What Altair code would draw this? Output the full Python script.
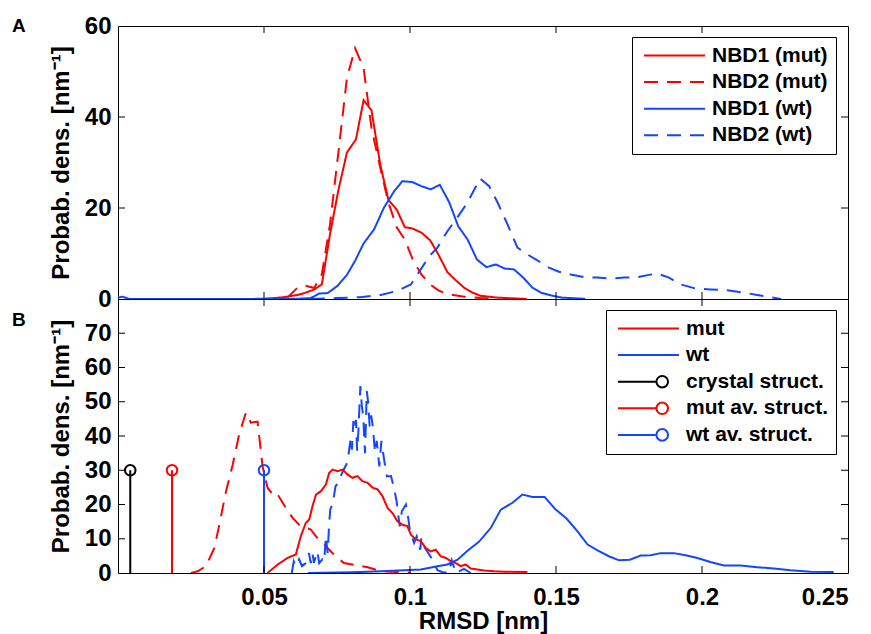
import altair as alt
import pandas as pd

RED = "#FF0000"
BLUE = "#1446FF"
BLACK = "#000000"
FONT = "Liberation Sans"
DASH = [14, 9]

# ---------------- Panel A data ----------------
namesA = ["NBD1 (mut)", "NBD2 (mut)", "NBD1 (wt)", "NBD2 (wt)"]

a1m_x = [0.045, 0.052, 0.0568, 0.0615, 0.0643, 0.0672, 0.0698, 0.0726, 0.0754, 0.0784, 0.0815, 0.0841, 0.0868, 0.0898,
         0.0926, 0.0955, 0.0982, 0.1008, 0.1039, 0.1069, 0.1097, 0.1128, 0.1157, 0.1185, 0.1214, 0.1242, 0.1300, 0.1400]
a1m_y = [0.0, 0.1, 0.4, 0.9, 1.4, 2.1, 3.2, 14.2, 23.7, 32.2, 35.1, 43.7, 41.5, 29.6,
         21.8, 19.6, 15.8, 15.5, 14.6, 12.9, 9.8, 5.9, 4.1, 2.5, 1.4, 0.7, 0.3, 0.0]

a2m_x = [0.050, 0.058, 0.0615, 0.0643, 0.0672, 0.0698, 0.0726, 0.0754, 0.0784, 0.0812, 0.0841, 0.0868,
         0.0898, 0.0926, 0.0955, 0.0982, 0.1011, 0.1039, 0.1069, 0.1097, 0.1128, 0.1185, 0.1242, 0.1300]
a2m_y = [0.0, 0.3, 2.5, 2.9, 2.4, 5.4, 16.4, 31.8, 48.6, 55.1, 50.8, 37.6,
         28.9, 21.2, 15.7, 13.1, 8.4, 5.4, 3.2, 1.9, 1.1, 0.5, 0.2, 0.0]

a1w_x = [0.0, 0.0015, 0.004, 0.060, 0.066, 0.0689, 0.0718, 0.0752, 0.0784, 0.0812, 0.0841, 0.0877, 0.0911,
         0.0946, 0.0974, 0.1008, 0.1039, 0.1071, 0.1102, 0.1134, 0.1165, 0.1197, 0.1229, 0.1262, 0.1294,
         0.1324, 0.1356, 0.1388, 0.1419, 0.1448, 0.1482, 0.1520, 0.1600]
a1w_y = [0.3, 0.5, 0.0, 0.0, 0.2, 1.2, 1.3, 2.9, 5.3, 8.4, 12.2, 15.3, 20.1,
         23.7, 25.9, 25.7, 24.8, 24.1, 25.1, 21.3, 16.0, 13.1, 8.7, 7.0, 7.6,
         6.7, 6.5, 4.7, 2.5, 1.4, 0.8, 0.3, 0.05]

a2w_x = [0.066, 0.075, 0.083, 0.090, 0.0957, 0.1003, 0.1037, 0.1066, 0.1094, 0.1128,
         0.1162, 0.1197, 0.1240, 0.1271, 0.1300, 0.1334, 0.1368, 0.1402, 0.1436, 0.1476,
         0.1510, 0.1550, 0.1596, 0.1642, 0.1687, 0.1733, 0.1779, 0.1818, 0.1847, 0.1887,
         0.1927, 0.1978, 0.2029, 0.2087, 0.2143, 0.2189, 0.2235, 0.2270]
a2w_y = [0.0, 0.2, 0.4, 0.9, 1.8, 3.2, 6.5, 9.4, 11.3, 14.9,
         17.9, 21.2, 26.5, 24.8, 21.2, 16.4, 11.3, 9.8, 8.5, 6.9,
         6.0, 5.4, 4.8, 4.7, 4.5, 4.7, 4.8, 5.3, 5.6, 4.7,
         3.2, 2.3, 2.1, 1.9, 1.4, 0.9, 0.4, 0.0]

# ---------------- Panel B data ----------------
namesB = ["mut", "wt", "crystal struct.", "mut av. struct.", "wt av. struct."]

bm_x = [0.0512, 0.0547, 0.0581, 0.0609, 0.0626, 0.0643, 0.0655, 0.0666, 0.0678, 0.0695,
        0.0712, 0.0723, 0.0735, 0.0752, 0.0769, 0.0786, 0.0803, 0.0820, 0.0837, 0.0855,
        0.0872, 0.0889, 0.0906, 0.0923, 0.0940, 0.0957, 0.0974, 0.0991, 0.1003, 0.1020,
        0.1037, 0.1054, 0.1071, 0.1088, 0.1105, 0.1123, 0.1140, 0.1157, 0.1174, 0.1191,
        0.1208, 0.1231, 0.1254, 0.1288, 0.1322, 0.1402]
bm_y = [0.0, 2.5, 4.4, 5.4, 10.7, 14.6, 15.6, 19.5, 22.9, 23.9,
        25.8, 29.2, 30.2, 29.7, 30.2, 28.8, 27.8, 28.3, 26.8, 26.3,
        24.9, 24.4, 22.4, 19.0, 17.5, 15.1, 14.1, 13.7, 11.2, 9.8,
        9.3, 7.3, 6.3, 6.8, 4.9, 4.4, 3.4, 2.9, 2.0, 2.5,
        1.3, 1.0, 0.7, 0.5, 0.4, 0.3]

bw_x = [0.065, 0.080, 0.090, 0.098, 0.1037, 0.1094, 0.1128, 0.1163, 0.1197, 0.1236,
        0.1277, 0.1311, 0.1351, 0.1385, 0.1419, 0.1461, 0.1499, 0.1536, 0.1573, 0.1608,
        0.1644, 0.1681, 0.1716, 0.1753, 0.1790, 0.1824, 0.1858, 0.1904, 0.1944, 0.1984,
        0.2029, 0.2075, 0.2132, 0.2189, 0.2246, 0.2303, 0.2372, 0.2451]
bw_y = [0.0, 0.2, 0.5, 0.8, 1.0, 2.0, 2.5, 3.9, 6.5, 9.1,
        13.2, 18.5, 20.5, 22.9, 22.2, 22.2, 18.5, 15.9, 12.2, 8.3,
        6.5, 4.9, 3.7, 3.9, 5.1, 5.2, 5.8, 5.8, 5.2, 4.4,
        3.2, 2.2, 2.2, 1.7, 1.3, 0.8, 0.4, 0.3]

bmd_x = [0.0250, 0.0273, 0.0301, 0.0330, 0.0347, 0.0370, 0.0393, 0.0415, 0.0438, 0.0455,
         0.0478, 0.0495, 0.0512, 0.0535, 0.0547, 0.0575, 0.0598, 0.0620, 0.0643, 0.0660,
         0.0683, 0.0706, 0.0729, 0.0752, 0.0774, 0.0820, 0.0855, 0.0900, 0.0957, 0.1003]
bmd_y = [0.0, 0.5, 2.0, 7.3, 14.1, 23.9, 31.7, 40.5, 46.8, 43.9,
         44.2, 31.2, 24.9, 22.4, 22.9, 19.0, 16.1, 14.1, 13.2, 12.7,
         10.2, 8.3, 6.3, 4.4, 2.9, 2.2, 1.7, 0.5, 0.3, 0.1]

bwd_x = [0.0595, 0.0602, 0.0609, 0.0620, 0.0630, 0.0643, 0.0654, 0.0660, 0.0666, 0.0671,
         0.0683, 0.0689, 0.0700, 0.0706, 0.0712, 0.0718, 0.0723, 0.0727, 0.0735, 0.0745,
         0.0752, 0.0766, 0.0786, 0.0797, 0.0801, 0.0806, 0.0811, 0.0815, 0.0819, 0.0823,
         0.0830, 0.0835, 0.0838, 0.0841, 0.0843, 0.0846, 0.0852, 0.0857, 0.0862, 0.0867,
         0.0873, 0.0880, 0.0886, 0.0891, 0.0895, 0.0902, 0.0908, 0.0915, 0.0921, 0.0935,
         0.0946, 0.0954, 0.0958, 0.0965, 0.0972, 0.0986, 0.0994, 0.1000, 0.1014, 0.1023,
         0.1035, 0.1039, 0.1048, 0.1074, 0.1094, 0.1110, 0.1133, 0.1143, 0.1157, 0.1185,
         0.1208]
bwd_y = [0.0, 3.4, 2.0, 4.0, 2.0, 2.9, 5.8, 2.9, 5.8, 3.0,
         6.3, 2.9, 4.0, 3.4, 10.7, 5.8, 14.2, 18.6, 20.0, 25.4,
         26.0, 28.9, 32.4, 39.4, 36.0, 44.4, 42.0, 44.7, 35.7, 41.0,
         54.6, 48.8, 47.0, 44.0, 39.7, 35.0, 53.2, 49.6, 42.6, 46.0,
         42.6, 35.2, 38.6, 34.4, 31.1, 38.6, 35.0, 31.1, 28.2, 28.3,
         24.5, 21.0, 18.0, 13.6, 18.0, 20.0, 16.0, 12.2, 8.8, 10.7,
         6.8, 10.2, 7.8, 4.3, 0.8, 0.3, 0.0, 3.7, 0.0, 1.2,
         0.0]

stem_names = ["crystal struct.", "mut av. struct.", "wt av. struct."]
stem_x = [0.0042, 0.0185, 0.0500]
stem_y = [30, 30, 30]

x_ticks = [0.05, 0.1, 0.15, 0.2, 0.25]
x_inner_ticks = [0.05, 0.1, 0.15, 0.2]
yA_ticks = [0, 20, 40, 60]
yA_inner = [20, 40]
yB_ticks = [0, 10, 20, 30, 40, 50, 60, 70]
yB_inner = [10, 20, 30, 40, 50, 60, 70]
panel_labels = ["A", "B"]

YTITLE = "Probab. dens. [nm\u207b\u00b9]"

# ---------------- build ----------------
def series(xs, ys, name):
    return pd.DataFrame({"x": xs, "y": ys, "series": name})

dfA = pd.concat([series(a1m_x, a1m_y, namesA[0]), series(a2m_x, a2m_y, namesA[1]),
                 series(a1w_x, a1w_y, namesA[2]), series(a2w_x, a2w_y, namesA[3])], ignore_index=True)
dfB = pd.concat([series(bm_x, bm_y, "mut"), series(bw_x, bw_y, "wt")], ignore_index=True)
dfBmd = series(bmd_x, bmd_y, "mut2")
dfBwd = series(bwd_x, bwd_y, "wt2")
dfStem = pd.DataFrame({"x": stem_x, "y": stem_y, "series": stem_names})

W, HA, HB = 730, 273, 274
TL = 7

xsc = alt.Scale(domain=[0, 0.25], nice=False, zero=False)
ysA = alt.Scale(domain=[0, 60], nice=False, zero=False)
ysB = alt.Scale(domain=[0, 80], nice=False, zero=False)

legend_common = dict(title=None, orient="none", direction="vertical",
                     labelFont=FONT, labelFontSize=21, labelFontWeight="bold", labelColor="black",
                     labelLimit=400, labelOffset=6, symbolSize=3721, clipHeight=21, rowPadding=4.6,
                     symbolOffset=3, padding=8, strokeColor="black", fillColor="white",
                     symbolStrokeWidth=2, symbolFillColor="transparent")

legendA = alt.Legend(legendX=514, legendY=11, symbolType="stroke", **legend_common)

CIRCLE_PATH = "M-1,0L0.26,0M0.64,0A0.19,0.19,0,1,1,0.26,0A0.19,0.19,0,1,1,0.64,0"
legendB = alt.Legend(
    legendX=488, legendY=11,
    symbolType=alt.ExprRef(expr="(datum.value == 'mut' || datum.value == 'wt') ? 'M-1,0L1,0' : '" + CIRCLE_PATH + "'"),
    **legend_common)


def yaxis(values, H):
    return alt.Axis(values=values, title=YTITLE, titleX=-50, titleY=H / 2, titleBaseline="alphabetic",
                    titleAngle=270, titleAlign="center", labelPadding=7, format="d",
                    ticks=False, domain=False, grid=False)


axisA_y = yaxis(yA_ticks, HA)
axisB_y = yaxis(yB_ticks, HB)
axisB_x = alt.Axis(values=x_ticks, format=".2~f", title="RMSD [nm]", labelPadding=12, titlePadding=0,
                   ticks=False, domain=False, grid=False)


def ticks(H, yscale, inner_y, xaxis, yax):
    tx = pd.DataFrame({"v": x_inner_ticks})
    ty = pd.DataFrame({"v": inner_y})
    base_x = alt.Chart(tx).mark_rule(color="black", strokeWidth=1)
    base_y = alt.Chart(ty).mark_rule(color="black", strokeWidth=1)
    return [
        base_x.encode(x=alt.X("v:Q", scale=xsc, axis=xaxis), y=alt.value(H), y2=alt.value(H - TL)),
        base_x.encode(x=alt.X("v:Q", scale=xsc, axis=xaxis), y=alt.value(0), y2=alt.value(TL)),
        base_y.encode(y=alt.Y("v:Q", scale=yscale, axis=yax), x=alt.value(0), x2=alt.value(TL)),
        base_y.encode(y=alt.Y("v:Q", scale=yscale, axis=yax), x=alt.value(W), x2=alt.value(W - TL)),
    ]


def panel_label(txt, ypos):
    return alt.Chart(pd.DataFrame({"t": [txt]})).mark_text(
        font=FONT, fontSize=19, fontWeight="bold", align="left", baseline="alphabetic", color="black"
    ).encode(text="t:N", x=alt.value(-106), y=alt.value(ypos))


linesA = alt.Chart(dfA).mark_line(strokeWidth=2, clip=True).encode(
    x=alt.X("x:Q", scale=xsc, axis=None),
    y=alt.Y("y:Q", scale=ysA, axis=axisA_y),
    color=alt.Color("series:N", scale=alt.Scale(domain=namesA, range=[RED, RED, BLUE, BLUE]), legend=legendA),
    strokeDash=alt.StrokeDash("series:N", scale=alt.Scale(domain=namesA, range=[[1, 0], DASH, [1, 0], DASH]),
                              legend=legendA),
)

panelA = alt.layer(linesA, *ticks(HA, ysA, yA_inner, None, axisA_y),
                   panel_label(panel_labels[0], 6)).properties(width=W, height=HA)

colorB = alt.Scale(domain=namesB, range=[RED, BLUE, BLACK, RED, BLUE])

xB = alt.X("x:Q", scale=xsc, axis=axisB_x)
yBenc = alt.Y("y:Q", scale=ysB, axis=axisB_y)

mutdB = alt.Chart(dfBmd).mark_line(strokeWidth=2, clip=True, color=RED, strokeDash=DASH).encode(x=xB, y=yBenc)
wtdB = alt.Chart(dfBwd).mark_line(strokeWidth=2, clip=True, color=BLUE, strokeDash=DASH).encode(x=xB, y=yBenc)
linesB = alt.Chart(dfB).mark_line(strokeWidth=2, clip=True).encode(
    x=xB, y=yBenc,
    color=alt.Color("series:N", scale=colorB, legend=legendB),
)
stemsB = alt.Chart(dfStem).mark_rule(strokeWidth=2).encode(
    x=xB, y=yBenc, y2=alt.datum(0),
    color=alt.Color("series:N", scale=colorB, legend=legendB))
circB = alt.Chart(dfStem).mark_point(shape="circle", filled=False, size=110, strokeWidth=2, opacity=1).encode(
    x=xB, y=yBenc,
    color=alt.Color("series:N", scale=colorB, legend=legendB))

panelB = alt.layer(mutdB, wtdB, linesB, stemsB, circB, *ticks(HB, ysB, yB_inner, axisB_x, axisB_y),
                   panel_label(panel_labels[1], 27)).properties(width=W, height=HB)

chart = alt.vconcat(panelA, panelB, spacing=0, bounds="flush").resolve_scale(
    color="independent", strokeDash="independent", y="independent", x="independent"
).properties(
    padding={"left": 3, "top": 5, "right": 0, "bottom": 0}
).configure_view(stroke="black", strokeWidth=1).configure_axis(
    labelFont=FONT, labelFontSize=24, labelFontWeight="bold", labelColor="black",
    titleFont=FONT, titleFontSize=24, titleFontWeight="bold", titleColor="black"
)

chart.save("out.html", embed_options={"renderer": "svg", "actions": False})
